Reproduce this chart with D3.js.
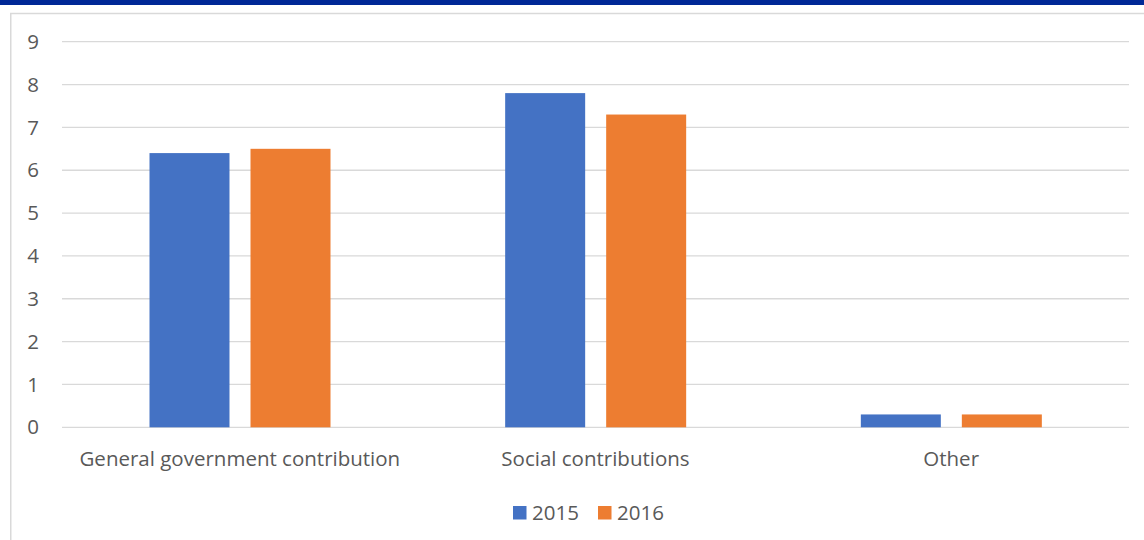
<!DOCTYPE html>
<html><head><meta charset="utf-8">
<script src="https://cdn.jsdelivr.net/npm/d3@7"></script>
<style>body{margin:0;background:#fff}</style>
</head><body>
<svg id="c" width="1144" height="540"></svg>
<script>
const categories = ["General government contribution", "Social contributions", "Other"];
const seriesNames = ["2015", "2016"];
const values2015 = [6.4, 7.8, 0.3];
const values2016 = [6.5, 7.3, 0.3];
const yTicks = [0,1,2,3,4,5,6,7,8,9];
const colors = ["#4472C4", "#ED7D31"];

const svg = d3.select("#c");
const font = "'Open Sans', sans-serif";
const fs = 20.5;
// banner
svg.append("rect").attr("x",0).attr("y",0).attr("width",1144).attr("height",5).attr("fill","#002896");
// chart border
svg.append("path").attr("d","M10.75,540 V13.5 H1144").attr("fill","none").attr("stroke","#d9d9d9").attr("stroke-width",1.5);

const x0 = d3.scaleBand().domain(categories).range([62,1129]).paddingInner(0).paddingOuter(0);
const x1 = d3.scaleBand().domain(seriesNames).range([87.5, 356-87.5]).paddingInner(0.208);
const y = d3.scaleLinear().domain([0,9]).range([427.3, 41.7]);

// grid
svg.append("g").selectAll("line").data(yTicks).join("line")
  .attr("x1",62).attr("x2",1129).attr("y1",d=>y(d)).attr("y2",d=>y(d))
  .attr("stroke","#d9d9d9").attr("stroke-width",1.3);
// y labels
svg.append("g").selectAll("text").data(yTicks).join("text")
  .attr("x",33).attr("y",d=>y(d)).attr("dy","0.35em").attr("text-anchor","middle")
  .attr("font-family",font).attr("font-size",fs).attr("fill","#595959").text(d=>d);

const data = categories.map((c,i)=>({cat:c, vals:[values2015[i], values2016[i]]}));
const g = svg.append("g").selectAll("g").data(data).join("g")
  .attr("transform",d=>`translate(${x0(d.cat)},0)`);
g.selectAll("rect").data(d=>d.vals.map((v,j)=>({s:seriesNames[j],v,j}))).join("rect")
  .attr("x",d=>x1(d.s)).attr("width",x1.bandwidth())
  .attr("y",d=>y(d.v)).attr("height",d=>y(0)-y(d.v))
  .attr("fill",d=>colors[d.j]);

// category labels
svg.append("g").selectAll("text").data(categories).join("text")
  .attr("x",d=>x0(d)+x0.bandwidth()/2).attr("y",466).attr("text-anchor","middle")
  .attr("font-family",font).attr("font-size",fs).attr("fill","#595959").text(d=>d);

// legend
const legX = [513, 598];
const lg = svg.append("g").selectAll("g").data(seriesNames).join("g")
  .attr("transform",(d,i)=>`translate(${legX[i]},506)`);
lg.append("rect").attr("width",13.5).attr("height",13.5).attr("fill",(d,i)=>colors[i]);
lg.append("text").attr("x",19).attr("y",13.5).attr("font-family",font).attr("font-size",fs)
  .attr("fill","#595959").text(d=>d);
</script>
</body></html>
